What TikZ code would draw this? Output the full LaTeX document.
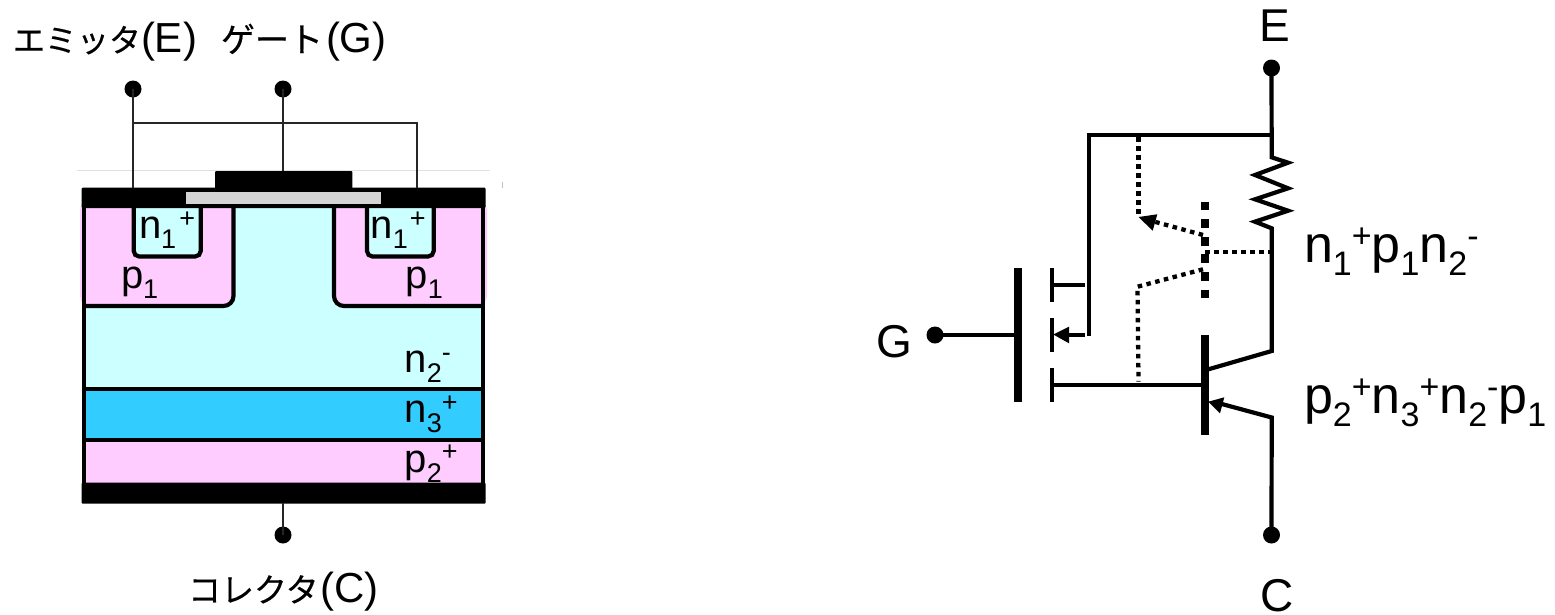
\documentclass[tikz,border=0pt]{standalone}
\usepackage{fontspec}
\setmainfont{Liberation Sans}
\newfontfamily\cjk[FakeBold=0.4]{Noto Sans CJK JP}
\usetikzlibrary{arrows.meta}
\definecolor{pinkp}{HTML}{FFCCFF}
\definecolor{cyann}{HTML}{CCFFFF}
\definecolor{bluen}{HTML}{33CCFF}
% device labels
\newcommand\subx[1]{\raisebox{-10pt}{\fontsize{27}{27}\selectfont #1}}
\newcommand\supx[1]{\raisebox{11.5pt}{\fontsize{27}{27}\selectfont #1}}
% circuit labels
\newcommand\suby[1]{\raisebox{-13pt}{\fontsize{34}{34}\selectfont #1}}
\newcommand\supy[1]{\raisebox{15pt}{\fontsize{34}{34}\selectfont #1}}
\newcommand\jp[2][33]{{\cjk\fontsize{#1}{#1}\selectfont #2}}
\tikzset{
  x=1pt,y=-1pt,
  txt/.style={inner sep=0pt,outer sep=0pt,font=\fontsize{42}{42}\selectfont,anchor=base west,text=black},
  devt/.style={txt,font=\fontsize{40}{40}\selectfont},
  ctr/.style={txt,anchor=base,font=\fontsize{46}{46}\selectfont},
  bigt/.style={txt,font=\fontsize{52}{52}\selectfont},
  dot/.style={circle,fill=black,inner sep=0pt,minimum size=17pt},
  wire/.style={line width=1.5pt,draw=black!85},
  outline/.style={line width=4.2pt,draw=black},
  cct/.style={line width=4.2pt,draw=black,line join=miter},
  dots/.style={line width=4.3pt,draw=black,dash pattern=on 4.5pt off 4.5pt},
}
\begin{document}
\begin{tikzpicture}
\useasboundingbox (0,0) rectangle (1555,614);
% ---------- device cross-section
\fill[cyann] (84,205) rectangle (483,389);
\fill[bluen] (84,389) rectangle (483,440);
\fill[pinkp] (84,440) rectangle (483,486);
\fill[pinkp,rounded corners=10pt] (80,200) -- (233.5,200) -- (233.5,306) -- (80,306) -- cycle;
\fill[pinkp,rounded corners=10pt] (487,200) -- (334,200) -- (334,306) -- (487,306) -- cycle;
\draw[outline,rounded corners=10pt] (233.5,205) -- (233.5,306) -- (84,306);
\draw[outline,rounded corners=10pt] (334,205) -- (334,306) -- (483,306);
\draw[outline,fill=cyann,rounded corners=5.5pt] (133.7,205) -- (133.7,256.5) -- (200.7,256.5) -- (200.7,205);
\draw[outline,fill=cyann,rounded corners=5.5pt] (367,205) -- (367,256.5) -- (433.7,256.5) -- (433.7,205);
\draw[outline] (84,389.3) -- (483,389.3);
\draw[outline] (84,439.7) -- (483,439.7);
\draw[outline] (83.8,205) -- (83.8,486);
\draw[outline] (483.3,205) -- (483.3,486);
% labels in the device
\node[devt] (ln1) at (139,238.5) {n\subx{1}\hspace{3pt}\supx{+}};
\node[devt] (rn1) at (370.5,238.5) {n\subx{1}\hspace{2pt}\supx{+}};
\node[devt] (lp1) at (121,288) {p\subx{1}};
\node[devt] (rp1) at (405.5,288) {p\subx{1}};
\node[devt] (n2) at (404.5,372.5) {n\subx{2}\supx{-}};
\node[devt] (n3) at (404.5,422.5) {n\subx{3}\supx{+}};
\node[devt] (p2) at (404.5,472) {p\subx{2}\supx{+}};
% metal
\draw[black!12,line width=.8pt] (77,170.3) -- (490,170.3);
\draw[black!25,line width=.7pt] (502.7,182) -- (502.7,188);
\fill[black,rounded corners=1pt] (81.7,187.7) rectangle (485.7,208);
\fill[black,rounded corners=1pt] (215,171) rectangle (352.3,190);
\fill[black!17] (186,192) rectangle (381,204);
\fill[black,rounded corners=1pt] (81.7,482.7) rectangle (485.7,503.7);
% terminals
\node[dot] (te) at (133,89) {};
\node[dot] (tg) at (283,89) {};
\node[dot] (tc) at (283,535) {};
\coordinate (cE) at (133,188);
\coordinate (cJ) at (133,123);
\coordinate (cJ2) at (417,123);
\coordinate (cE2) at (417,188);
\coordinate (cG) at (283,171);
\coordinate (cC) at (283,503);
\draw[wire] (te.center) -- (cE);
\draw[wire] (cJ) -- (cJ2) -- (cE2);
\draw[wire] (tg.center) -- (cG);
\draw[wire] (cC) -- (tc.center);
\node[txt] (le) at (13,52) {\jp[32]{エミッタ}(E)};
\node[txt] (lg) at (221,52) {\jp[34]{ゲート}\hspace{3pt}(G)};
\node[txt] (lc) at (188,602) {\jp{コレクタ}\hspace{2pt}(C)};
% ---------- equivalent circuit
\node[dot] (E) at (1271.5,68) {};
\node[dot] (C) at (1271.5,535) {};
\node[dot] (G) at (935,335) {};
\coordinate (top) at (1271.7,134.7);
\coordinate (topl) at (1088.7,134.7);
\coordinate (srcl) at (1088.7,336);
\coordinate (rt) at (1271.7,157.3);
\coordinate (rb) at (1271.7,228.3);
\coordinate (coll) at (1271.7,351);
\coordinate (collb) at (1207,369.7);
\coordinate (emit) at (1271.7,417.5);
\coordinate (emitb) at (1220,403.5);
\draw[cct] (E.center) -- (rt) -- (1288,162.7) -- (1255,175) -- (1288,188.3) -- (1255,199.3) -- (1288,210.7) -- (1255,221.7) -- (rb) -- (coll) -- (collb);
\draw[cct] (top) -- (topl) -- (srcl);
\draw[cct] (C.center) -- (emit) -- (emitb);
\fill (1208.3,401.7) -- (1224.3,397.3) -- (1220,413.3) -- cycle;
\coordinate (gb) at (1018.3,335);
\draw[cct] (G.center) -- (gb);
\draw[line width=8pt] (1018.3,268.3) -- (1018.3,401.7);
\draw[line width=4pt] (1051.7,268.3) -- (1051.7,301.7);
\draw[line width=4pt] (1051.7,318.3) -- (1051.7,351.7);
\draw[line width=4pt] (1051.7,368) -- (1051.7,401.7);
\coordinate (d1) at (1051.7,284.7);
\coordinate (d2) at (1085,284.7);
\coordinate (s1) at (1066,334.7);
\coordinate (s2) at (1085,334.7);
\coordinate (b1) at (1051.7,385);
\coordinate (b2) at (1203,385);
\draw[cct] (d1) -- (d2);
\draw[cct] (s2) -- (s1);
\fill (1053.3,334.5) -- (1069,326.7) -- (1069,343.3) -- cycle;
\draw[cct] (b1) -- (b2);
\draw[line width=8.5pt] (1205,335) -- (1205,435);
% dotted parasitic transistor
\draw[line width=8.3pt,dash pattern=on 8.8pt off 8.8pt] (1205,201.6) -- (1205,300);
\coordinate (ptop) at (1138.5,137);
\coordinate (pmid) at (1138.5,217);
\coordinate (pb1) at (1203,235);
\coordinate (ph1) at (1205,251.7);
\coordinate (ph2) at (1271.7,251.7);
\coordinate (pb2) at (1203,269.3);
\coordinate (plow) at (1137.5,286.7);
\coordinate (pend) at (1138.5,381.7);
\draw[dots] (ptop) -- (pmid);
\draw[dots] (pb1) -- (1152,221);
\fill (pmid) -- (1157.3,214.3) -- (1152.7,230.7) -- cycle;
\draw[dots] (ph1) -- (ph2);
\draw[dots] (pb2) -- (plow) -- (pend);
\node[ctr] (lE) at (1275,41) {E};
\node[ctr] (lC) at (1277,611) {C};
\node[ctr] (lG) at (894,357.5) {G};
\node[bigt] (l1) at (1304,262.7) {n\suby{1}\supy{+}p\suby{1}n\suby{2}\supy{-}};
\node[bigt] (l2) at (1304,413) {p\suby{2}\supy{+}n\suby{3}\supy{+}n\suby{2}\supy{-}p\suby{1}};
\end{tikzpicture}
\end{document}
